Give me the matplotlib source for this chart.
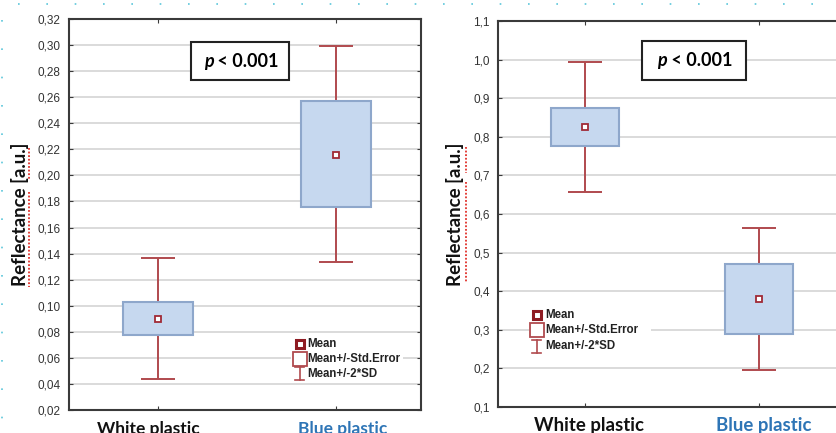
import matplotlib
matplotlib.use("Agg")
import matplotlib.pyplot as plt
from matplotlib.patches import Rectangle
from matplotlib.lines import Line2D
from matplotlib.ticker import FuncFormatter
from matplotlib.transforms import ScaledTranslation

# ---------------- data ----------------
categories = ["White plastic", "Blue plastic"]
label_colors = ["#111111", "#2E75B6"]

# left panel
left_mean = [0.090, 0.216]
left_se_low = [0.0775, 0.1755]
left_se_high = [0.1031, 0.257]
left_sd_low = [0.0435, 0.1335]
left_sd_high = [0.137, 0.299]
left_yticks = [0.02, 0.04, 0.06, 0.08, 0.10, 0.12, 0.14, 0.16, 0.18, 0.20,
               0.22, 0.24, 0.26, 0.28, 0.30, 0.32]

# right panel
right_mean = [0.825, 0.380]
right_se_low = [0.777, 0.290]
right_se_high = [0.874, 0.4705]
right_sd_low = [0.656, 0.196]
right_sd_high = [0.995, 0.5646]
right_yticks = [0.1, 0.2, 0.3, 0.4, 0.5, 0.6, 0.7, 0.8, 0.9, 1.0, 1.1]

p_sym = "p"
p_rest = " < 0.001"
legend_labels = ["Mean", "Mean+/-Std.Error", "Mean+/-2*SD"]

# ---------------- style ----------------
W, H = 837, 433
fig = plt.figure(figsize=(W / 100, H / 100), dpi=100)
fig.patch.set_facecolor("white")

BOX_FC = "#C6D8EF"
BOX_EC = "#8EA7CB"
WHISK = "#B04A4E"
MEAN_EC = "#A02A35"
GRID = "#DADADA"
SPINE = "#3A3A3A"
TICKC = "#333333"


def px(x0, y0, x1, y1):
    return [x0 / W, 1 - y1 / H, (x1 - x0) / W, (y1 - y0) / H]


def panel(ax, mean, slo, shi, dlo, dhi, yticks, ylim, fmt, xlim,
          xfs, xshift, xpad):
    xs = list(range(len(categories)))
    ax.set_xlim(*xlim)
    ax.set_ylim(*ylim)
    ax.set_yticks(yticks)
    ax.yaxis.set_major_formatter(FuncFormatter(fmt))
    ax.grid(axis="y", color=GRID, linewidth=1.4, zorder=0)
    ax.set_axisbelow(True)
    # whiskers
    ax.vlines(xs, dlo, dhi, color=WHISK, linewidth=1.4, zorder=2)
    ax.hlines(dlo, [x - 0.097 for x in xs], [x + 0.097 for x in xs],
              color=WHISK, linewidth=1.4, zorder=2)
    ax.hlines(dhi, [x - 0.097 for x in xs], [x + 0.097 for x in xs],
              color=WHISK, linewidth=1.4, zorder=2)
    # boxes
    ax.bar(xs, [h - l for h, l in zip(shi, slo)], bottom=slo, width=0.39,
           color=BOX_FC, edgecolor=BOX_EC, linewidth=1.5, zorder=3)
    # means
    ax.plot(xs, mean, linestyle="none", marker="s", markersize=4.5,
            markerfacecolor="white", markeredgecolor=MEAN_EC,
            markeredgewidth=1.3, zorder=4)
    ax.set_xticks(xs)
    ax.set_xticklabels(categories, fontsize=xfs, fontweight="bold",
                       family="Lato")
    ax.tick_params(axis="x", direction="in", length=3, top=True, pad=xpad,
                   color=SPINE)
    for t, c, dx in zip(ax.get_xticklabels(), label_colors, xshift):
        t.set_color(c)
        t.set_transform(t.get_transform() +
                        ScaledTranslation(dx / 100, 0, fig.dpi_scale_trans))
    ax.tick_params(axis="y", direction="in", length=3, right=True,
                   labelsize=8.5, labelcolor=TICKC, color=SPINE, pad=6)
    for t in ax.get_yticklabels():
        t.set_family("Liberation Sans")
    for s in ax.spines.values():
        s.set_color(SPINE)
        s.set_linewidth(1.5)
    ax.set_ylabel("Reflectance [a.u.]", fontsize=13.5, fontweight="bold",
                  family="Lato", color="#111111")


def p_box(ax, x0, y0, w, h, shift):
    ax.add_patch(Rectangle((x0, y0), w, h, transform=ax.transAxes,
                           facecolor="white", edgecolor="#222222",
                           linewidth=1.5, zorder=5))
    xc = x0 + w / 2 - shift
    yc = y0 + h / 2
    ax.text(xc, yc, p_sym, transform=ax.transAxes, ha="right",
            va="center", fontsize=13, fontweight="bold", style="italic",
            family="Lato", zorder=6)
    ax.text(xc, yc, p_rest, transform=ax.transAxes, ha="left",
            va="center", fontsize=13, fontweight="bold",
            family="Lato", zorder=6)


def legend(ax, mx, tx, ys, bg):
    ax.add_patch(Rectangle((bg[0], bg[1]), bg[2], bg[3], transform=ax.transAxes,
                           facecolor="white", edgecolor="none", zorder=5))
    tr = ax.transAxes
    ax.plot([mx], [ys[0]], transform=tr, marker="s", markersize=6,
            markerfacecolor="white", markeredgecolor="#8E1B22",
            markeredgewidth=2.2, zorder=6, clip_on=False)
    ax.plot([mx], [ys[1]], transform=tr, marker="s", markersize=10,
            markerfacecolor="white", markeredgecolor=WHISK,
            markeredgewidth=1.3, zorder=6, clip_on=False)
    # I-beam for 2*SD
    bb = ax.get_window_extent()
    dy = 6.5 / bb.height
    dx = 4.5 / bb.width
    ax.plot([mx, mx], [ys[2] - dy, ys[2] + dy], transform=tr, color=WHISK,
            linewidth=1.2, zorder=6)
    ax.plot([mx - dx, mx + dx], [ys[2] - dy, ys[2] - dy], transform=tr,
            color=WHISK, linewidth=1.2, zorder=6)
    ax.plot([mx - dx, mx + dx], [ys[2] + dy, ys[2] + dy], transform=tr,
            color=WHISK, linewidth=1.2, zorder=6)
    for y, lab in zip(ys, legend_labels):
        ax.text(tx, y, lab, transform=tr, ha="left", va="center",
                fontsize=8.3, fontweight="bold", color="#222222",
                family="Liberation Sans", zorder=7)


fmt2 = lambda v, pos: f"{v:.2f}".replace(".", ",")
fmt1 = lambda v, pos: f"{v:.1f}".replace(".", ",")

axL = fig.add_axes(px(69, 19, 421, 410))
panel(axL, left_mean, left_se_low, left_se_high, left_sd_low, left_sd_high,
      left_yticks, (0.02, 0.32), fmt2, (-0.5, 1.476), 12.5, (-10, 6), 8)
axL.yaxis.set_label_coords(-0.114, 0.5)
p_box(axL, 0.346, 0.844, 0.278, 0.097, 0.075)
legend(axL, 0.656, 0.677, [0.169, 0.130, 0.093], (0.63, 0.075, 0.32, 0.115))

axR = fig.add_axes(px(498, 21, 845, 407))
panel(axR, right_mean, right_se_low, right_se_high, right_sd_low, right_sd_high,
      right_yticks, (0.1, 1.1), fmt1, (-0.5, 1.494), 13.4, (4, 5), 7)
axR.yaxis.set_label_coords(-0.097, 0.5)
p_box(axR, 0.414, 0.846, 0.302, 0.103, 0.078)
legend(axR, 0.112, 0.136, [0.238, 0.199, 0.158], (0.09, 0.14, 0.35, 0.115))

# decorative dotted guide lines (page artifacts)
CY = "#5BC6DA"
fig.add_artist(Line2D([18 / W, 1], [1 - 4 / H, 1 - 4 / H], color=CY,
                      linewidth=1.2, linestyle=(0, (1, 16))))
fig.add_artist(Line2D([2 / W, 2 / W], [1 - 20 / H, 0], color=CY,
                      linewidth=1.2, linestyle=(0, (1, 16))))

# spell-check squiggles
RED = "#E0302A"
for x, segs in [(29.5, [(148, 180), (192, 287)]),
                (466.0, [(147, 173), (182, 283)])]:
    for a, b in segs:
        fig.add_artist(Line2D([x / W, x / W], [1 - a / H, 1 - b / H],
                              color=RED, linewidth=1.3,
                              linestyle=(0, (1, 1))))

fig.savefig("out.png", dpi=100, facecolor="white")
